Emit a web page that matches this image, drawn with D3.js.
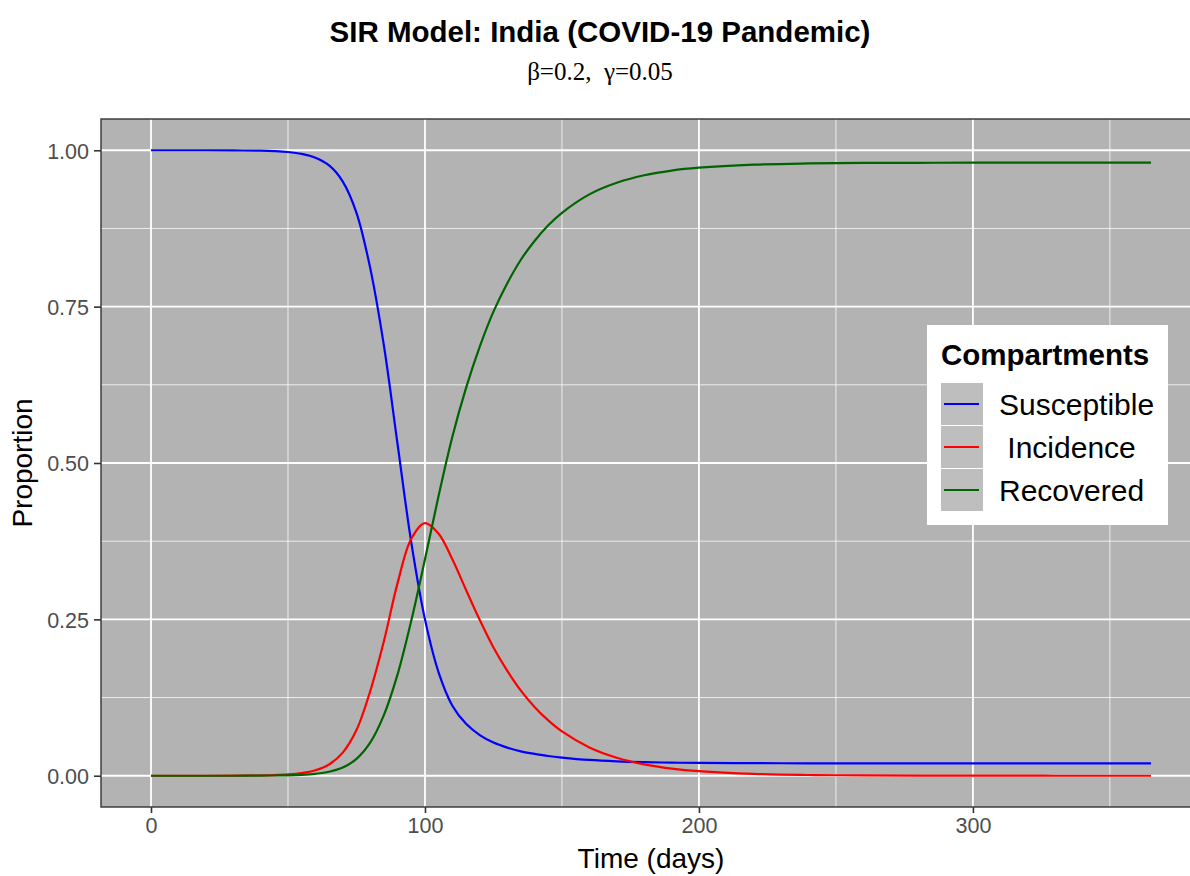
<!DOCTYPE html>
<html><head><meta charset="utf-8">
<script src="https://cdn.jsdelivr.net/npm/d3@7"></script>
<style>body{margin:0;background:#fff;} svg{display:block;}</style>
</head><body>
<svg id="chart" width="1190" height="876"></svg>
<script>
// ---- data ----
const days = [0,10,20,30,40,45,50,55,60,65,70,75,80,85,90,95,100,105,110,115,120,125,130,135,140,145,150,160,170,180,190,200,220,240,260,280,300,330,365];
const susceptible = [1.0000,1.0000,1.0000,0.9998,0.9993,0.9986,0.9972,0.9942,0.9881,0.9757,0.9500,0.9000,0.8120,0.6880,0.5300,0.3730,0.2500,0.1650,0.1120,0.0830,0.0650,0.0530,0.0450,0.0390,0.0350,0.0315,0.0290,0.0252,0.0230,0.0217,0.0209,0.0205,0.0201,0.0199,0.0198,0.0198,0.0198,0.0198,0.0198];
const incidence   = [0.0000,0.0000,0.0000,0.0001,0.0005,0.0010,0.0021,0.0043,0.0088,0.0180,0.0370,0.0730,0.1350,0.2150,0.3080,0.3790,0.4040,0.3870,0.3460,0.2970,0.2490,0.2050,0.1680,0.1360,0.1100,0.0884,0.0708,0.0453,0.0288,0.0182,0.0115,0.0073,0.0029,0.0012,0.0005,0.0002,0.0001,0.0000,0.0000];
const recovered   = [0.0000,0.0000,0.0000,0.0000,0.0002,0.0004,0.0007,0.0015,0.0031,0.0063,0.0130,0.0270,0.0530,0.0970,0.1620,0.2480,0.3460,0.4480,0.5420,0.6200,0.6860,0.7420,0.7870,0.8250,0.8550,0.8800,0.9000,0.9295,0.9480,0.9600,0.9676,0.9722,0.9770,0.9789,0.9797,0.9800,0.9801,0.9802,0.9802];
const seriesNames = ["Susceptible"," Incidence","Recovered"];
const seriesColors = ["#0000ff","#ff0000","#006400"];
const xTicks = [0,100,200,300];
const xMinor = [50,150,250,350];
const yTicks = [0,0.25,0.5,0.75,1];
const yMinor = [0.125,0.375,0.625,0.875];
const titleText = "SIR Model: India (COVID-19 Pandemic)";
const subtitleText = "\u03B2=0.2,  \u03B3=0.05";
const xLabel = "Time (days)";
const yLabel = "Proportion";
const legendTitle = "Compartments";

// ---- layout ----
const svg = d3.select("#chart");
const P = {l:101, r:1201, t:119, b:807};
const x = d3.scaleLinear().domain([-18.25, 383.25]).range([P.l, P.r]);
const y = d3.scaleLinear().domain([-0.05, 1.05]).range([P.b, P.t]);
const SANS = "Liberation Sans, Arial, sans-serif";

svg.append("rect").attr("x",P.l).attr("y",P.t).attr("width",P.r-P.l).attr("height",P.b-P.t).attr("fill","#b3b3b3");

const g = svg.append("g");
g.selectAll(".vmin").data(xMinor).join("line").attr("x1",d=>x(d)).attr("x2",d=>x(d)).attr("y1",P.t).attr("y2",P.b).attr("stroke","#ffffff").attr("stroke-width",0.9).attr("stroke-opacity",0.85);
g.selectAll(".hmin").data(yMinor).join("line").attr("y1",d=>y(d)).attr("y2",d=>y(d)).attr("x1",P.l).attr("x2",P.r).attr("stroke","#ffffff").attr("stroke-width",0.9).attr("stroke-opacity",0.85);
g.selectAll(".vmaj").data(xTicks).join("line").attr("x1",d=>x(d)).attr("x2",d=>x(d)).attr("y1",P.t).attr("y2",P.b).attr("stroke","#ffffff").attr("stroke-width",1.8);
g.selectAll(".hmaj").data(yTicks).join("line").attr("y1",d=>y(d)).attr("y2",d=>y(d)).attr("x1",P.l).attr("x2",P.r).attr("stroke","#ffffff").attr("stroke-width",1.8);

const allSeries = [susceptible, incidence, recovered];
const line = d3.line().x((d,i)=>x(days[i])).y(d=>y(d)).curve(d3.curveCatmullRom.alpha(0.5));
allSeries.forEach((s,k)=>{
  svg.append("path").attr("d",line(s)).attr("fill","none").attr("stroke",seriesColors[k]).attr("stroke-width",2.2).attr("stroke-linejoin","round");
});

svg.append("rect").attr("x",P.l).attr("y",P.t).attr("width",P.r-P.l).attr("height",P.b-P.t).attr("fill","none").attr("stroke","#333333").attr("stroke-width",1.4);

const xAxis = svg.append("g").attr("transform",`translate(0,${P.b})`)
  .call(d3.axisBottom(x).tickValues(xTicks).tickFormat(d3.format("d")).tickSize(6).tickPadding(5));
const yAxis = svg.append("g").attr("transform",`translate(${P.l},0)`)
  .call(d3.axisLeft(y).tickValues(yTicks).tickFormat(d3.format(".2f")).tickSize(7).tickPadding(5));
[xAxis,yAxis].forEach(a=>{
  a.select(".domain").remove();
  a.selectAll(".tick line").attr("stroke","#333333").attr("stroke-width",1.6);
  a.selectAll(".tick text").attr("fill","#4d4d4d").style("font-family",SANS).style("font-size","21.5px");
});
xAxis.selectAll(".tick text").attr("dy","0.71em");
yAxis.selectAll(".tick text").attr("dy","0.36em");

svg.append("text").attr("x",600).attr("y",42).attr("text-anchor","middle")
  .style("font-family",SANS).style("font-weight","bold").style("font-size","29.5px").attr("fill","#000").text(titleText);
svg.append("text").attr("x",600).attr("y",80).attr("text-anchor","middle").style("white-space","pre")
  .style("font-family","Liberation Serif, Times New Roman, serif").style("font-size","25px").attr("fill","#000").text(subtitleText);
svg.append("text").attr("x",(P.l+P.r)/2).attr("y",868).attr("text-anchor","middle")
  .style("font-family",SANS).style("font-size","28px").attr("fill","#000").text(xLabel);
svg.append("text").attr("transform",`translate(32,${(P.t+P.b)/2}) rotate(-90)`).attr("text-anchor","middle")
  .style("font-family",SANS).style("font-size","28px").attr("fill","#000").text(yLabel);

const L = svg.append("g");
L.append("rect").attr("x",927).attr("y",325).attr("width",241).attr("height",200).attr("fill","#ffffff");
L.append("text").attr("x",941).attr("y",365)
  .style("font-family",SANS).style("font-weight","bold").style("font-size","29.5px").attr("fill","#000").text(legendTitle);
seriesNames.forEach((nm,k)=>{
  const ky = 383 + k*43;
  L.append("rect").attr("x",941).attr("y",ky).attr("width",42).attr("height",42).attr("fill","#bebebe");
  L.append("line").attr("x1",944).attr("x2",979).attr("y1",ky+21).attr("y2",ky+21).attr("stroke",seriesColors[k]).attr("stroke-width",2.2);
  L.append("text").attr("x",999).attr("y",ky+32).style("white-space","pre")
    .style("font-family",SANS).style("font-size","30px").attr("fill","#000").text(nm);
});
</script>
</body></html>
